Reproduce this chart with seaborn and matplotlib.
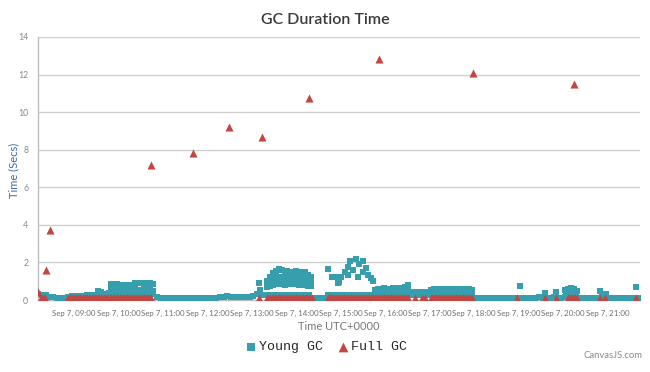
import numpy as np
import pandas as pd
import seaborn as sns
import matplotlib.pyplot as plt
import matplotlib.dates as mdates

# GC log of Sep 7, times in minutes after 08:00 UTC
START = pd.Timestamp("2015-09-07 08:00")

# young GC baseline samples, one every 5 minutes from 08:12 to 21:42
young_base_start = 12
young_base_secs = [
    0.30, 0.28, 0.25, 0.18, 0.15, 0.12, 0.12, 0.10, 0.15, 0.22,                  # 08h
    0.22, 0.22, 0.22, 0.24, 0.24, 0.25, 0.30, 0.30, 0.30, 0.35, 0.30, 0.30,      # 09h
    0.30, 0.30, 0.30, 0.28, 0.30, 0.30, 0.30, 0.30, 0.30, 0.30, 0.15, 0.12,      # 10h
    0.12, 0.10, 0.10, 0.10, 0.10, 0.10, 0.10, 0.10, 0.12, 0.12, 0.12, 0.12,      # 11h
    0.12, 0.12, 0.12, 0.15, 0.15, 0.22, 0.15, 0.15, 0.15, 0.15, 0.18, 0.15,      # 12h
    0.22, 0.30, 0.28, 0.25, 0.25, 0.25, 0.25, 0.25, 0.25, 0.25, 0.25, 0.25,      # 13h
    0.25, 0.25, 0.25, 0.25, 0.12, 0.12, 0.12, 0.12, 0.25, 0.25, 0.25, 0.25,      # 14h
    0.25, 0.25, 0.25, 0.25, 0.25, 0.25, 0.25, 0.25, 0.25, 0.25, 0.25, 0.25,      # 15h
    0.25, 0.25, 0.25, 0.25, 0.25, 0.25, 0.25, 0.25, 0.25, 0.25, 0.25, 0.25,      # 16h
    0.25, 0.25, 0.25, 0.25, 0.25, 0.25, 0.25, 0.25, 0.25, 0.25, 0.25, 0.25,      # 17h
    0.12, 0.10, 0.10, 0.10, 0.10, 0.10, 0.10, 0.12, 0.10, 0.10, 0.10, 0.12,      # 18h
    0.12, 0.10, 0.10, 0.10, 0.10, 0.15, 0.12, 0.10, 0.10, 0.15, 0.12, 0.12,      # 19h
    0.15, 0.22, 0.25, 0.22, 0.12, 0.10, 0.10, 0.10, 0.10, 0.12, 0.15, 0.12,      # 20h
    0.12, 0.10, 0.10, 0.10, 0.10, 0.10, 0.10, 0.10, 0.12,                        # 21h
]

# young GC samples above the baseline
young_upper_min = [
    92, 96,
    110, 114, 118, 122, 126, 130, 134, 138, 142, 146, 150, 154, 158, 162, 166,
    110, 114, 118, 122, 126, 130, 134, 138, 142, 146, 150, 154, 158, 162, 166,
    309, 311,
    320, 324, 328, 332, 336, 340, 344, 348, 352, 356, 360, 364, 368, 372, 376, 380,
    320, 324, 328, 332, 336, 340, 344, 348, 352, 356, 360, 364, 368, 372, 376, 380,
    320, 324, 328, 332, 336, 340, 344, 348, 352, 356, 360, 364, 368, 372, 376, 380,
    402, 408, 413, 416, 418, 420, 425, 429, 429, 433, 436, 440, 443, 445, 450, 450,
    454, 456, 460, 464,
    466, 470, 474, 478, 482, 486, 490, 494, 498, 502, 506, 510,
    466, 470, 474, 478, 482, 486, 490, 494, 498, 502, 506, 510,
    517, 521, 526, 530, 535,
    541, 545, 549, 553, 557, 561, 565, 569, 573, 577, 581, 585, 589, 593, 597,
    541, 545, 549, 553, 557, 561, 565, 569, 573, 577, 581, 585, 589, 593, 597,
    662, 695, 710, 722, 726, 730, 734, 738, 724, 732, 769, 777, 818,
]
young_upper_secs = [
    0.50, 0.45,
    0.85, 0.80, 0.85, 0.82, 0.78, 0.80, 0.75, 0.82, 0.90, 0.88, 0.90, 0.92, 0.88, 0.90, 0.85,
    0.55, 0.50, 0.60, 0.55, 0.42, 0.55, 0.60, 0.45, 0.60, 0.55, 0.42, 0.60, 0.55, 0.65, 0.50,
    0.90, 0.55,
    1.00, 1.25, 1.45, 1.55, 1.65, 1.60, 1.50, 1.55, 1.50, 1.45, 1.55, 1.50, 1.45, 1.50, 1.35, 1.25,
    0.85, 1.00, 1.15, 1.20, 1.25, 1.20, 1.15, 1.20, 1.20, 1.15, 1.20, 1.15, 1.10, 1.20, 1.05, 1.00,
    0.70, 0.75, 0.80, 0.85, 0.90, 0.85, 0.80, 0.90, 0.85, 0.85, 0.90, 0.80, 0.80, 0.85, 0.75, 0.75,
    1.64, 1.25, 1.25, 0.88, 0.97, 1.24, 1.50, 1.78, 1.33, 2.05, 1.60, 2.20, 1.24, 1.90, 2.05, 1.50,
    1.70, 1.33, 1.15, 1.00,
    0.55, 0.60, 0.60, 0.62, 0.60, 0.60, 0.62, 0.60, 0.65, 0.62, 0.70, 0.80,
    0.40, 0.42, 0.40, 0.42, 0.45, 0.40, 0.42, 0.45, 0.42, 0.40, 0.45, 0.48,
    0.45, 0.35, 0.45, 0.40, 0.45,
    0.55, 0.60, 0.58, 0.60, 0.58, 0.55, 0.60, 0.58, 0.60, 0.58, 0.55, 0.60, 0.58, 0.60, 0.55,
    0.40, 0.42, 0.40, 0.42, 0.40, 0.42, 0.40, 0.42, 0.40, 0.42, 0.40, 0.42, 0.40, 0.42, 0.40,
    0.74, 0.35, 0.40, 0.55, 0.60, 0.62, 0.58, 0.50, 0.35, 0.35, 0.50, 0.30, 0.70,
]

# long full GC pauses
full_gc_min = [12, 22, 28, 164, 220, 269, 313, 377, 472, 598, 735]
full_gc_secs = [0.45, 1.60, 3.70, 7.20, 7.83, 9.20, 8.68, 10.75, 12.83, 12.08, 11.50]

# short full GC pauses, logged about every 2 minutes in busy stretches
full_short_min = [
    15, 17, 19, 21,
    52, 54, 56, 58, 60, 62, 64, 66, 68, 70, 72, 74, 76, 78, 80,
    82, 84, 86, 88, 90, 92, 94, 96, 98, 100, 102, 104, 106, 108, 110,
    112, 114, 116, 118, 120, 122, 124, 126, 128, 130, 132, 134, 136, 138, 140,
    142, 144, 146, 148, 150, 152, 154, 156, 158, 160, 162, 164,
    309,
    321, 323, 325, 327, 329, 331, 333, 335, 337, 339, 341, 343, 345, 347, 349,
    351, 353, 355, 357, 359, 361, 363, 365, 367, 369, 371, 373, 375, 377, 379, 381,
    402, 404, 406, 408, 410, 412, 414, 416, 418, 420, 422, 424, 426, 428, 430,
    432, 434, 436, 438, 440, 442, 444, 446, 448, 450, 452, 454, 456, 458, 460,
    462, 464, 466, 468, 470, 472, 474, 476, 478, 480, 482, 484, 486, 488, 490,
    492, 494, 496, 498, 500, 502, 504, 506, 508, 510,
    520, 530, 534,
    541, 543, 545, 547, 549, 551, 553, 555, 557, 559, 561, 563, 565, 567, 569,
    571, 573, 575, 577, 579, 581, 583, 585, 587, 589, 591, 593, 595, 597,
    658, 695, 710, 726, 728, 730, 732, 734, 736, 738, 769, 776, 818,
]
full_short_secs = [
    0.08, 0.08, 0.08, 0.08,
    0.08, 0.08, 0.08, 0.08, 0.08, 0.08, 0.08, 0.08, 0.08, 0.08, 0.08, 0.08, 0.08, 0.08, 0.08,
    0.08, 0.08, 0.08, 0.08, 0.08, 0.08, 0.08, 0.08, 0.08, 0.08, 0.08, 0.08, 0.08, 0.08, 0.08,
    0.08, 0.08, 0.08, 0.08, 0.08, 0.08, 0.08, 0.08, 0.08, 0.08, 0.08, 0.08, 0.08, 0.08, 0.08,
    0.08, 0.08, 0.08, 0.08, 0.08, 0.08, 0.08, 0.08, 0.08, 0.08, 0.08, 0.08,
    0.12,
    0.08, 0.08, 0.08, 0.08, 0.08, 0.08, 0.08, 0.08, 0.08, 0.08, 0.08, 0.08, 0.08, 0.08, 0.08,
    0.08, 0.08, 0.08, 0.08, 0.08, 0.08, 0.08, 0.08, 0.08, 0.08, 0.08, 0.08, 0.08, 0.08, 0.08, 0.08,
    0.08, 0.08, 0.08, 0.08, 0.08, 0.08, 0.08, 0.08, 0.08, 0.08, 0.08, 0.08, 0.08, 0.08, 0.08,
    0.08, 0.08, 0.08, 0.08, 0.08, 0.08, 0.08, 0.08, 0.08, 0.08, 0.08, 0.08, 0.08, 0.08, 0.08,
    0.08, 0.08, 0.08, 0.08, 0.08, 0.08, 0.08, 0.08, 0.08, 0.08, 0.08, 0.08, 0.08, 0.08, 0.08,
    0.08, 0.08, 0.08, 0.08, 0.08, 0.08, 0.08, 0.08, 0.08, 0.08,
    0.12, 0.12, 0.12,
    0.08, 0.08, 0.08, 0.08, 0.08, 0.08, 0.08, 0.08, 0.08, 0.08, 0.08, 0.08, 0.08, 0.08, 0.08,
    0.08, 0.08, 0.08, 0.08, 0.08, 0.08, 0.08, 0.08, 0.08, 0.08, 0.08, 0.08, 0.08, 0.08,
    0.12, 0.12, 0.12, 0.08, 0.08, 0.08, 0.08, 0.08, 0.08, 0.08, 0.12, 0.12, 0.12,
]

TEAL = "#369EAD"
RED = "#C24642"


def to_time(minutes):
    return START + pd.to_timedelta(np.asarray(minutes, dtype=float), unit="min")


base_min = young_base_start + 5 * np.arange(len(young_base_secs))
young_df = pd.DataFrame({
    "time": to_time(np.concatenate([base_min, young_upper_min])),
    "secs": list(young_base_secs) + list(young_upper_secs),
})
full_df = pd.DataFrame({
    "time": to_time(list(full_short_min) + list(full_gc_min)),
    "secs": list(full_short_secs) + list(full_gc_secs),
})

sns.set_style("white")
plt.rcParams["font.family"] = ["Lato", "DejaVu Sans"]

fig = plt.figure(figsize=(6.5, 3.72), dpi=100)
ax = fig.add_axes([38 / 650, 1 - 300 / 372, 602 / 650, 263 / 372])

sns.scatterplot(data=young_df, x="time", y="secs", marker="s", s=20,
                color=TEAL, linewidth=0, ax=ax, label="Young GC", zorder=3)
sns.scatterplot(data=full_df, x="time", y="secs", marker="^", s=34,
                color=RED, linewidth=0, ax=ax, label="Full GC", zorder=4)

ax.set_ylim(0, 14)
ax.set_yticks(range(0, 15, 2))
ax.set_xlim(to_time([11.5])[0], to_time([823.5])[0])
ax.xaxis.set_major_locator(mdates.HourLocator())
ax.xaxis.set_major_formatter(mdates.DateFormatter("%b %-d, %H:%M"))

ax.grid(axis="y", color="#cfcfcf", linewidth=1)
ax.grid(axis="x", visible=False)
for side in ["top", "right"]:
    ax.spines[side].set_visible(False)
for side in ["left", "bottom"]:
    ax.spines[side].set_color("#bdbdbd")
    ax.spines[side].set_linewidth(1)
ax.tick_params(axis="x", length=5, color="#bdbdbd", labelsize=5.7,
               labelcolor="#707070", pad=2)
ax.tick_params(axis="y", length=4, color="#cfcfcf", labelsize=6.3,
               labelcolor="#888888", pad=3)
ax.set_xlabel("")
ax.set_ylabel("")

fig.text(0.5, 1 - 20 / 372, "GC Duration Time", ha="center", va="center",
         fontsize=11.5, fontweight="semibold", color="#3a3a3a")
fig.text(14 / 650, 1 - 170 / 372, "Time (Secs)", rotation=90, ha="center",
         va="center", fontsize=8, color="#3d6aa5")
fig.text(339 / 650, 1 - 326 / 372, "Time UTC+0000", ha="center", va="center",
         fontsize=8, color="#777777")
fig.text(643 / 650, 1 - 355 / 372, "CanvasJS.com", ha="right", va="center",
         fontsize=6.8, color="#888888")

ax.legend(loc="center", bbox_to_anchor=(326 / 650, 1 - 347 / 372),
          bbox_transform=fig.transFigure, ncol=2, frameon=False,
          prop={"family": "Liberation Mono", "size": 9.5},
          handletextpad=0.1, columnspacing=1.0, markerscale=1.2,
          handlelength=1.0)

fig.savefig("out.png", dpi=100)
